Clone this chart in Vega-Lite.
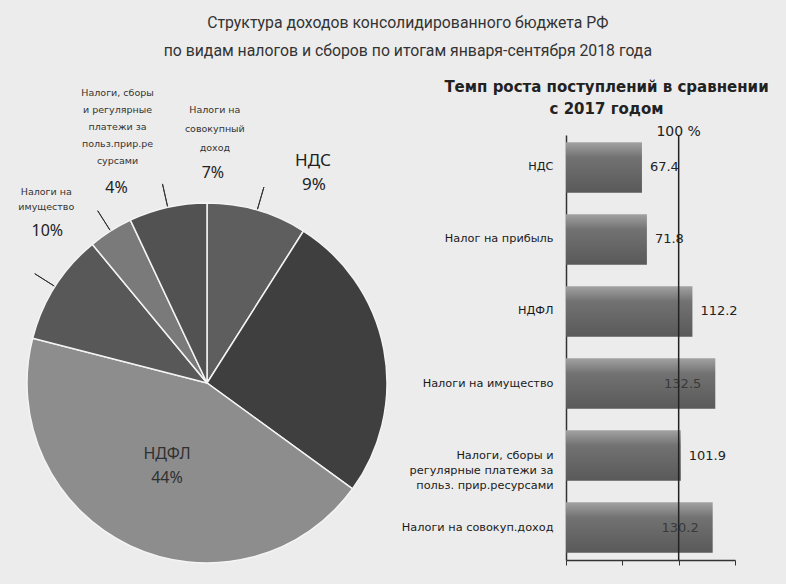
{
  "$schema": "https://vega.github.io/schema/vega-lite/v6.json",
  "background": "#ececec",
  "padding": {"left": 5, "top": 14, "right": 45, "bottom": 5},
  "config": {"view": {"stroke": null}},
  "title": {
    "text": ["Структура  доходов консолидированного  бюджета РФ", "по видам  налогов и сборов  по итогам января-сентября   2018 года"],
    "font": "Roboto",
    "fontSize": 15.8,
    "fontWeight": "normal",
    "color": "#333333",
    "anchor": "middle",
    "lineHeight": 28,
    "offset": 21,
    "dx": 21
  },
  "datasets": {
    "pie": [
      {"cat": "НДС", "share": 9, "idx": 1, "desc": "НДС", "pct": "9%"},
      {"cat": "Налог на прибыль", "share": 26, "idx": 2, "desc": "Налог на прибыль", "pct": "26%"},
      {"cat": "НДФЛ", "share": 44, "idx": 3, "desc": "НДФЛ", "pct": "44%"},
      {"cat": "Налоги на имущество", "share": 10, "idx": 4, "desc": "Налоги на\nимущество", "pct": "10%"},
      {"cat": "Налоги, сборы и регулярные платежи за польз.прир.ресурсами", "share": 4, "idx": 5, "desc": "Налоги, сборы\nи регулярные\nплатежи за\nпольз.прир.ре\nсурсами", "pct": "4%"},
      {"cat": "Налоги на совокупный доход", "share": 7, "idx": 6, "desc": "Налоги на\nсовокупный\nдоход", "pct": "7%"}
    ],
    "bars": [
      {"cat": "НДС", "rate": 67.4},
      {"cat": "Налог на прибыль", "rate": 71.8},
      {"cat": "НДФЛ", "rate": 112.2},
      {"cat": "Налоги на имущество", "rate": 132.5},
      {"cat": "Налоги, сборы и|регулярные платежи за|польз. прир.ресурсами", "rate": 101.9},
      {"cat": "Налоги на совокуп.доход", "rate": 130.2}
    ],
    "ref": [{"level": 100, "label": "100 %"}]
  },
  "hconcat": [
    {
      "width": 404,
      "height": 496,
      "data": {"name": "pie"},
      "transform": [
        {"stack": "share", "groupby": [], "sort": [{"field": "idx", "order": "ascending"}], "as": ["s0", "s1"]}
      ],
      "layer": [
        {
          "mark": {"type": "arc", "radius": 180, "stroke": "#f4f4f4", "strokeWidth": 1.5},
          "encoding": {
            "theta": {"field": "s0", "type": "quantitative", "scale": {"domain": [0, 100]}},
            "theta2": {"field": "s1"},
            "color": {
              "field": "cat", "type": "nominal", "legend": null,
              "scale": {
                "domain": ["НДС", "Налог на прибыль", "НДФЛ", "Налоги на имущество", "Налоги, сборы и регулярные платежи за польз.прир.ресурсами", "Налоги на совокупный доход"],
                "range": ["#5e5e5e", "#3f3f3f", "#8d8d8d", "#585858", "#7a7a7a", "#525252"]
              }
            }
          }
        },
        {
          "transform": [{"filter": "datum.idx != 2 && datum.idx != 3"}],
          "mark": {"type": "arc", "radius": 204, "radius2": 181, "padAngle": 3, "stroke": "#333333", "strokeWidth": 1, "fill": null},
          "encoding": {
            "theta": {"field": "s0", "type": "quantitative"},
            "theta2": {"field": "s1"}
          }
        },
        {
          "transform": [{"filter": "datum.idx == 1"}],
          "mark": {"type": "text", "radius": 200, "dx": 106, "dy": -22, "font": "Noto Sans", "fontSize": 17, "color": "#222222", "align": "center", "baseline": "middle"},
          "encoding": {"theta": {"field": "s0", "type": "quantitative"}, "text": {"field": "desc"}}
        },
        {
          "transform": [{"filter": "datum.idx == 1"}],
          "mark": {"type": "text", "radius": 200, "dx": 107, "dy": 2, "font": "Noto Sans", "fontSize": 17, "color": "#222222", "align": "center", "baseline": "middle"},
          "encoding": {"theta": {"field": "s0", "type": "quantitative"}, "text": {"field": "pct"}}
        },
        {
          "transform": [{"filter": "datum.idx == 3"}],
          "mark": {"type": "text", "radius": 0, "dx": -40, "dy": 71, "font": "Noto Sans", "fontSize": 16, "color": "#303030", "align": "center", "baseline": "middle"},
          "encoding": {"theta": {"field": "s0", "type": "quantitative"}, "text": {"field": "desc"}}
        },
        {
          "transform": [{"filter": "datum.idx == 3"}],
          "mark": {"type": "text", "radius": 0, "dx": -40, "dy": 95, "font": "Noto Sans", "fontSize": 16, "color": "#303030", "align": "center", "baseline": "middle"},
          "encoding": {"theta": {"field": "s0", "type": "quantitative"}, "text": {"field": "pct"}}
        },
        {
          "transform": [{"filter": "datum.idx == 4"}],
          "mark": {"type": "text", "radius": 200, "dx": 33, "dy": -141, "font": "DejaVu Sans", "fontSize": 9.5, "color": "#333333", "lineBreak": "\n", "lineHeight": 15, "align": "center", "baseline": "middle"},
          "encoding": {"theta": {"field": "s0", "type": "quantitative"}, "text": {"field": "desc"}}
        },
        {
          "transform": [{"filter": "datum.idx == 4"}],
          "mark": {"type": "text", "radius": 200, "dx": 34, "dy": -102, "font": "Noto Sans", "fontSize": 16, "color": "#222222", "align": "center", "baseline": "middle"},
          "encoding": {"theta": {"field": "s0", "type": "quantitative"}, "text": {"field": "pct"}}
        },
        {
          "transform": [{"filter": "datum.idx == 5"}],
          "mark": {"type": "text", "radius": 200, "dx": 38, "dy": -136, "font": "DejaVu Sans", "fontSize": 9.5, "color": "#333333", "lineBreak": "\n", "lineHeight": 17, "align": "center", "baseline": "middle"},
          "encoding": {"theta": {"field": "s0", "type": "quantitative"}, "text": {"field": "desc"}}
        },
        {
          "transform": [{"filter": "datum.idx == 5"}],
          "mark": {"type": "text", "radius": 200, "dx": 37, "dy": -41, "font": "Noto Sans", "fontSize": 16, "color": "#222222", "align": "center", "baseline": "middle"},
          "encoding": {"theta": {"field": "s0", "type": "quantitative"}, "text": {"field": "pct"}}
        },
        {
          "transform": [{"filter": "datum.idx == 6"}],
          "mark": {"type": "text", "radius": 200, "dx": 93, "dy": -92, "font": "DejaVu Sans", "fontSize": 9.5, "color": "#333333", "lineBreak": "\n", "lineHeight": 19, "align": "center", "baseline": "middle"},
          "encoding": {"theta": {"field": "s0", "type": "quantitative"}, "text": {"field": "desc"}}
        },
        {
          "transform": [{"filter": "datum.idx == 6"}],
          "mark": {"type": "text", "radius": 200, "dx": 91, "dy": -29, "font": "Noto Sans", "fontSize": 16, "color": "#222222", "align": "center", "baseline": "middle"},
          "encoding": {"theta": {"field": "s0", "type": "quantitative"}, "text": {"field": "pct"}}
        }
      ]
    },
    {
      "width": 169,
      "height": 425,
      "title": {
        "text": ["Темп роста поступлений в сравнении", "с 2017 годом"],
        "font": "DejaVu Sans",
        "fontSize": 15,
        "fontWeight": "bold",
        "color": "#222222",
        "anchor": "middle",
        "frame": "bounds",
        "lineHeight": 22,
        "offset": 8,
        "dx": 37
      },
      "layer": [
        {
          "data": {"name": "bars"},
          "mark": {
            "type": "bar",
            "color": {"gradient": "linear", "x1": 0, "y1": 0, "x2": 0, "y2": 1,
              "stops": [{"offset": 0, "color": "#a2a2a2"}, {"offset": 0.3, "color": "#727272"}, {"offset": 1, "color": "#595959"}]}
          },
          "encoding": {
            "y": {
              "field": "cat", "type": "nominal", "sort": null,
              "scale": {"paddingInner": 0.3, "paddingOuter": 0.1},
              "axis": {
                "title": null, "ticks": false, "domainColor": "#333333", "domainWidth": 1.5,
                "labelFont": "DejaVu Sans", "labelFontSize": 11.3, "labelColor": "#1a1a1a",
                "labelPadding": 13, "labelLimit": 200, "labelLineHeight": 15,
                "labelExpr": "split(datum.label, '|')",
                "minExtent": 150, "maxExtent": 150
              }
            },
            "x": {
              "field": "rate", "type": "quantitative",
              "scale": {"domain": [0, 150], "nice": false},
              "axis": {"title": null, "labels": false, "grid": false, "values": [0, 50, 100, 150], "domainColor": "#333333", "domainWidth": 1.5, "tickColor": "#333333", "tickSize": 5}
            }
          }
        },
        {
          "data": {"name": "bars"},
          "transform": [{"filter": "datum.rate < 120"}],
          "mark": {"type": "text", "align": "left", "dx": 8, "font": "DejaVu Sans", "fontSize": 13, "color": "#222222", "baseline": "middle"},
          "encoding": {
            "y": {"field": "cat", "type": "nominal", "sort": null},
            "x": {"field": "rate", "type": "quantitative", "scale": {"domain": [0, 150], "nice": false}},
            "text": {"field": "rate", "type": "quantitative", "format": ".1f"}
          }
        },
        {
          "data": {"name": "bars"},
          "transform": [{"filter": "datum.rate >= 120"}],
          "mark": {"type": "text", "align": "right", "dx": -14, "font": "DejaVu Sans", "fontSize": 13, "color": "#3a3a3a", "baseline": "middle"},
          "encoding": {
            "y": {"field": "cat", "type": "nominal", "sort": null},
            "x": {"field": "rate", "type": "quantitative", "scale": {"domain": [0, 150], "nice": false}},
            "text": {"field": "rate", "type": "quantitative", "format": ".1f"}
          }
        },
        {
          "data": {"name": "ref"},
          "mark": {"type": "rule", "color": "#222222", "strokeWidth": 1.5},
          "encoding": {"x": {"field": "level", "type": "quantitative", "scale": {"domain": [0, 150], "nice": false}}}
        },
        {
          "data": {"name": "ref"},
          "mark": {"type": "text", "font": "DejaVu Sans", "fontSize": 14, "color": "#222222", "dy": -35, "baseline": "middle"},
          "encoding": {
            "x": {"field": "level", "type": "quantitative", "scale": {"domain": [0, 150], "nice": false}},
            "y": {"datum": "НДС"},
            "text": {"field": "label"}
          }
        }
      ]
    }
  ],
  "spacing": -8
}
